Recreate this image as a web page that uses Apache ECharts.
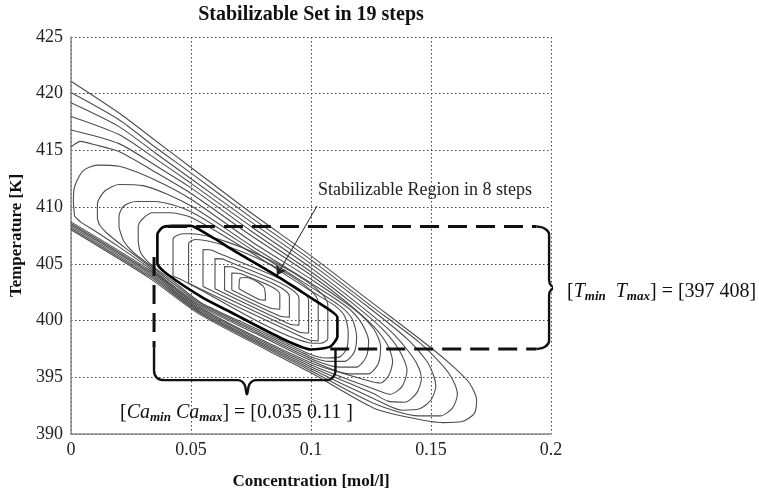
<!DOCTYPE html>
<html>
<head>
<meta charset="utf-8">
<script src="https://cdn.jsdelivr.net/npm/echarts@6/dist/echarts.min.js"></script>
<style>html,body{margin:0;padding:0;background:#fff;}#c{width:759px;height:495px;}</style>
</head>
<body>
<div id="c"></div>
<script>
// ---- axis ticks ----
const xTicks = [0, 0.05, 0.1, 0.15, 0.2];
const xTickLabels = ['0', '0.05', '0.1', '0.15', '0.2'];
const yTicks = [390, 395, 400, 405, 410, 415, 420, 425];
const yTickLabels = ['390', '395', '400', '405', '410', '415', '420', '425'];

// ---- inner contours (steps 1..7) [Ca, T] ----
const step1 = [[0.070,402.8],[0.0705,403.75],[0.073,403.8],[0.0805,402.9],[0.081,401.8],[0.0785,401.85],[0.070,402.8]];
const step2 = [[0.067,402.7],[0.067,404.19],[0.071,404.10],[0.087,402.34],[0.087,401.0],[0.083,401.1],[0.067,402.7]];
const step3 = [[0.064,402.7],[0.064,404.77],[0.068,404.68],[0.091,402.15],[0.091,400.3],[0.087,400.4],[0.064,402.7]];
const step4 = [[0.060,402.8],[0.060,405.46],[0.064,405.37],[0.095,401.96],[0.095,399.6],[0.091,399.7],[0.060,402.8]];
const step5 = [[0.055,403.0],[0.055,406.26],[0.059,406.17],[0.099,401.77],[0.099,398.9],[0.095,399.0],[0.055,403.0]];
const step6 = [[0.049,403.3],[0.049,406.8],[0.052,407.15],[0.103,401.58],[0.103,398.2],[0.099,398.3],[0.049,403.3]];
const step7 = [[0.0425,403.9],[0.0425,407.2],[0.0465,407.65],[0.050,407.65],[0.107,401.39],[0.107,398.4],[0.104,398.0],[0.099,398.05],[0.046,403.6],[0.0425,403.9]];
// ---- stabilizable region in 8 steps ----
const step8 = [[0.036,406.0],[0.036,407.6],[0.038,408.2],[0.042,408.35],[0.050,408.35],[0.056,407.7],[0.070,405.9],[0.086,403.9],[0.100,402.0],[0.108,400.9],[0.111,400.3],[0.111,398.6],[0.108,397.7],[0.100,397.45],[0.088,398.4],[0.066,400.8],[0.055,402.0],[0.040,404.1],[0.036,405.0],[0.036,406.0]];
// ---- outer contours (steps 9..18) ----
const step9 = [[0.028,407.0],[0.028,408.3],[0.030,409.0],[0.034,409.5],[0.041,409.5],[0.050,409.1],[0.075,406.0],[0.100,402.6],[0.110,401.3],[0.114,400.4],[0.1155,399.0],[0.115,397.6],[0.112,396.8],[0.106,396.7],[0.100,397.0],[0.077,399.3],[0.054,401.6],[0.043,403.4],[0.033,405.0],[0.029,406.0],[0.028,407.0]];
const step10 = [[0.020,408.2],[0.020,409.2],[0.022,410.1],[0.027,410.5],[0.035,410.5],[0.050,409.6],[0.075,406.3],[0.100,402.95],[0.112,401.3],[0.117,400.2],[0.119,398.6],[0.118,397.2],[0.114,396.4],[0.108,396.4],[0.100,396.82],[0.077,399.15],[0.054,401.48],[0.043,403.2],[0.033,404.86],[0.026,406.0],[0.022,407.0],[0.020,408.2]];
const step11 = [[0.011,409.0],[0.011,410.3],[0.014,411.4],[0.020,412.0],[0.030,411.9],[0.050,410.1],[0.075,406.6],[0.100,403.3],[0.115,401.2],[0.121,399.8],[0.124,398.2],[0.123,396.8],[0.119,395.9],[0.112,395.9],[0.100,396.64],[0.077,399.0],[0.054,401.36],[0.043,403.0],[0.033,404.71],[0.022,406.5],[0.015,407.7],[0.012,408.4],[0.011,409.0]];
const step12 = [[0.0015,409.2],[0.001,410.5],[0.0015,411.8],[0.005,413.2],[0.011,413.7],[0.020,413.6],[0.035,412.4],[0.050,410.7],[0.075,407.0],[0.100,403.65],[0.118,401.0],[0.126,399.3],[0.129,397.7],[0.128,396.2],[0.124,395.3],[0.116,395.3],[0.100,396.47],[0.077,398.85],[0.054,401.23],[0.043,402.9],[0.033,404.57],[0.020,406.5],[0.010,407.9],[0.004,408.7],[0.0015,409.2]];
const step13 = [[0,415.3],[0.004,415.8],[0.010,415.5],[0.020,414.9],[0.035,413.1],[0.050,411.2],[0.075,407.5],[0.100,404.0],[0.115,401.6],[0.126,399.5],[0.132,397.8],[0.134,396.4],[0.1325,395.2],[0.129,394.5],[0.124,394.7],[0.100,396.29],[0.054,401.11],[0.033,404.42],[0,408.7]];
const step14 = [[0,416.8],[0.020,415.6],[0.035,413.7],[0.050,411.7],[0.075,407.9],[0.100,404.3],[0.118,401.4],[0.130,399.2],[0.137,397.3],[0.140,395.6],[0.138,394.2],[0.133,393.5],[0.126,393.98],[0.100,396.11],[0.054,400.99],[0.033,404.28],[0,408.56]];
const step15 = [[0,418.0],[0.020,416.4],[0.035,414.3],[0.050,412.1],[0.075,408.3],[0.100,404.65],[0.120,401.4],[0.134,398.9],[0.142,396.9],[0.145,395.8],[0.146,394.9],[0.144,393.6],[0.139,392.8],[0.132,392.9],[0.126,393.56],[0.100,395.93],[0.054,400.87],[0.033,404.14],[0,408.42]];
const step16 = [[0,419.2],[0.020,417.1],[0.035,414.8],[0.050,412.5],[0.075,408.7],[0.100,405.0],[0.125,401.0],[0.140,398.4],[0.148,396.5],[0.151,395.2],[0.152,394.2],[0.150,393.0],[0.145,392.2],[0.138,392.1],[0.126,393.14],[0.100,395.76],[0.054,400.74],[0.033,403.99],[0,408.28]];
const step17 = [[0,420.1],[0.020,417.7],[0.035,415.3],[0.050,413.0],[0.075,409.1],[0.100,405.35],[0.125,401.3],[0.145,398.1],[0.155,396.0],[0.159,394.8],[0.161,393.5],[0.159,392.3],[0.154,391.6],[0.145,391.6],[0.126,392.72],[0.100,395.58],[0.054,400.62],[0.033,403.85],[0,408.14]];
const step18 = [[0,421.1],[0.020,418.3],[0.035,415.9],[0.050,413.5],[0.075,409.5],[0.100,405.7],[0.125,401.65],[0.150,397.6],[0.160,395.8],[0.166,394.5],[0.169,393.0],[0.168,391.8],[0.163,391.1],[0.155,391.0],[0.140,391.5],[0.126,392.3],[0.100,395.4],[0.054,400.5],[0.033,403.7],[0,408.0]];

const innerSteps = [step1, step2, step3, step4, step5, step6, step7];
const outerSteps = [step9, step10, step11, step12, step13, step14, step15, step16, step17, step18];

// ---- annotation geometry (data units) ----
const tBoxTop = [[0.0404, 408.3], [0.194, 408.3]];
const tBoxBottom = [[0.108, 397.5], [0.194, 397.5]];
const tBrace = [[0.194,408.3],[0.1975,408.1],[0.1992,407.6],[0.1992,403.6],[0.2002,403.05],[0.2025,402.9],[0.2002,402.75],[0.1992,402.2],[0.1992,398.2],[0.1975,397.7],[0.194,397.5]];
const caLeft = [[0.0346, 405.6], [0.0346, 397.6]];
const caBrace = [[0.0346,397.6],[0.0346,395.6],[0.0358,394.95],[0.039,394.75],[0.0695,394.75],[0.0722,394.4],[0.0733,393.5],[0.0744,394.4],[0.0771,394.75],[0.1065,394.75],[0.1095,395.1],[0.1102,395.7],[0.1102,397.5]];
const arrowLine = [[0.1025, 410.1], [0.0858, 404.0]];

const chart = echarts.init(document.getElementById('c'), null, {renderer: 'canvas'});
const serif = 'Liberation Serif';

const series = [];
innerSteps.concat(outerSteps).forEach((d, i) => {
  series.push({type: 'line', data: d, showSymbol: false, symbol: 'none', smooth: 0.25,
    lineStyle: {color: '#4d4d4d', width: 1.1}, silent: true, z: 2});
});
series.push({type: 'line', data: step8, showSymbol: false, symbol: 'none', smooth: 0.2,
  lineStyle: {color: '#000', width: 2.6}, silent: true, z: 3});
[tBoxTop, tBoxBottom, caLeft].forEach(d => series.push({type: 'line', data: d, showSymbol: false, symbol: 'none',
  lineStyle: {color: '#111', width: 3, type: [19, 9]}, clip: false, silent: true, z: 4}));
[tBrace, caBrace].forEach(d => series.push({type: 'line', data: d, showSymbol: false, symbol: 'none', smooth: 0.35,
  lineStyle: {color: '#111', width: 2.4}, clip: false, silent: true, z: 4}));
series.push({type: 'lines', coordinateSystem: 'cartesian2d', data: [{coords: arrowLine}],
  symbol: ['none', 'arrow'], symbolSize: 9, lineStyle: {color: '#222', width: 1, opacity: 1}, silent: true, z: 5});

chart.setOption({
  animation: false,
  backgroundColor: '#fff',
  grid: {left: 71, right: 208, top: 37, bottom: 59},
  xAxis: {
    type: 'value', min: xTicks[0], max: xTicks[xTicks.length - 1], interval: 0.05,
    name: 'Concentration [mol/l]', nameLocation: 'middle', nameGap: 39,
    nameTextStyle: {fontFamily: serif, fontWeight: 'bold', fontSize: 17, color: '#111'},
    axisLine: {show: true, lineStyle: {color: '#888', width: 1.5}},
    axisTick: {show: false},
    axisLabel: {fontFamily: serif, fontSize: 18, color: '#222', margin: 7,
      formatter: v => xTickLabels[xTicks.findIndex(t => Math.abs(t - v) < 1e-9)] || ''},
    splitLine: {show: true, lineStyle: {color: '#444', width: 1, type: [1.5, 2.5]}}
  },
  yAxis: {
    type: 'value', min: yTicks[0], max: yTicks[yTicks.length - 1], interval: 5,
    name: 'Temperature [K]', nameLocation: 'middle', nameGap: 46,
    nameTextStyle: {fontFamily: serif, fontWeight: 'bold', fontSize: 17, color: '#111'},
    axisLine: {show: true, lineStyle: {color: '#888', width: 1.5}},
    axisTick: {show: false},
    axisLabel: {fontFamily: serif, fontSize: 18, color: '#222', margin: 8,
      formatter: v => yTickLabels[yTicks.indexOf(Math.round(v))] || ''},
    splitLine: {show: true, lineStyle: {color: '#444', width: 1, type: [1.5, 2.5]}}
  },
  graphic: [
    {type: 'text', x: 311, y: 15, style: {text: 'Stabilizable Set in 19 steps', fontFamily: serif, fontWeight: 'bold', fontSize: 20, fill: '#111', textAlign: 'center', textVerticalAlign: 'middle'}},
    {type: 'text', x: 318, y: 190, style: {text: 'Stabilizable Region in 8 steps', fontFamily: serif, fontSize: 18, fill: '#222', textVerticalAlign: 'middle'}, z: 10},
    {type: 'text', x: 567, y: 292, z: 10, style: {
      text: '[{i|T}{s|min}  {i|T}{s|max}] = [397 408]',
      fontFamily: serif, fontSize: 20, fill: '#111', textVerticalAlign: 'middle',
      rich: {i: {fontFamily: serif, fontStyle: 'italic', fontSize: 20, fill: '#111'},
             s: {fontFamily: serif, fontStyle: 'italic', fontWeight: 'bold', fontSize: 13, fill: '#111', padding: [9, 0, 0, 0]}}
    }},
    {type: 'text', x: 120, y: 413, z: 10, style: {
      text: '[{i|Ca}{s|min} {i|Ca}{s|max}] = [0.035 0.11 ]',
      fontFamily: serif, fontSize: 20, fill: '#111', textVerticalAlign: 'middle',
      rich: {i: {fontFamily: serif, fontStyle: 'italic', fontSize: 20, fill: '#111'},
             s: {fontFamily: serif, fontStyle: 'italic', fontWeight: 'bold', fontSize: 13, fill: '#111', padding: [9, 0, 0, 0]}}
    }}
  ],
  series: series
});
</script>
</body>
</html>
